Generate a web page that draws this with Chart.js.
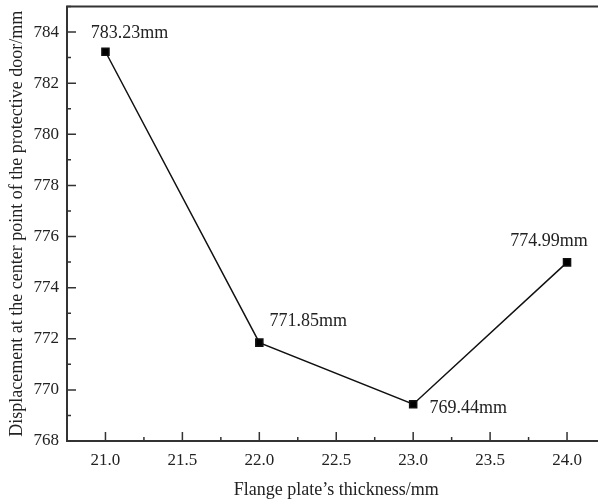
<!DOCTYPE html>
<html>
<head>
<meta charset="utf-8">
<script src="https://cdn.jsdelivr.net/npm/chart.js@4/dist/chart.umd.min.js"></script>
<style>
    html, body { margin: 0; padding: 0; background: #fff; overflow: hidden; }
    #wrap { width: 612px; height: 501px; }
</style>
</head>
<body>
<div id="wrap"><canvas id="chart" width="612" height="501"></canvas></div>
<script>
// Data
const thickness = [21.0, 22.0, 23.0, 24.0];
const displacement = [783.23, 771.85, 769.44, 774.99];
const pointLabels = ['783.23mm', '771.85mm', '769.44mm', '774.99mm'];
const xTicks = [21.0, 21.5, 22.0, 22.5, 23.0, 23.5, 24.0];
const yTicks = [768, 770, 772, 774, 776, 778, 780, 782, 784];

// label offsets from each point (px)
const labelOffsets = [[24, -18], [49, -21], [55, 4], [-18, -21]];

const FONT = "'Liberation Serif', 'Times New Roman', serif";
const TEXT = '#222';

// Frame plus inward ticks
const framePlugin = {
    id: 'frame',
    afterDraw(chart) {
        const { ctx, chartArea: a, scales } = chart;
        ctx.save();
        ctx.strokeStyle = '#333';
        ctx.lineWidth = 2;
        ctx.strokeRect(a.left, a.top, a.right - a.left, a.bottom - a.top);

        ctx.lineWidth = 1.5;
        ctx.beginPath();
        // x major + minor
        for (let v = 20.75; v <= 24.25; v += 0.25) {
            const px = scales.x.getPixelForValue(v);
            const major = Math.abs((v * 2) - Math.round(v * 2)) < 1e-6;
            const len = major ? 9 : 4;
            ctx.moveTo(px, a.bottom);
            ctx.lineTo(px, a.bottom - len);
        }
        // y major + minor
        for (let v = 768; v <= 785; v += 1) {
            const py = scales.y.getPixelForValue(v);
            const len = v % 2 === 0 ? 9 : 4;
            ctx.moveTo(a.left, py);
            ctx.lineTo(a.left + len, py);
        }
        ctx.stroke();
        ctx.restore();
    }
};

// Value labels beside the points
const labelPlugin = {
    id: 'pointLabels',
    afterDatasetsDraw(chart) {
        const { ctx } = chart;
        const meta = chart.getDatasetMeta(0);
        ctx.save();
        ctx.fillStyle = TEXT;
        ctx.font = '18px ' + FONT;
        ctx.textAlign = 'center';
        ctx.textBaseline = 'middle';
        meta.data.forEach((pt, i) => {
            const [dx, dy] = labelOffsets[i];
            ctx.fillText(pointLabels[i], pt.x + dx, pt.y + dy);
        });
        ctx.restore();
    }
};

new Chart(document.getElementById('chart').getContext('2d'), {
    type: 'scatter',
    data: {
        datasets: [{
            data: thickness.map((x, i) => ({ x: x, y: displacement[i] })),
            showLine: true,
            borderColor: '#111',
            borderWidth: 1.5,
            backgroundColor: '#000',
            pointStyle: 'rect',
            pointRadius: 5,
            pointHoverRadius: 5,
            tension: 0
        }]
    },
    options: {
        responsive: false,
        animation: false,
        layout: { padding: { top: 5, right: 6, left: 0, bottom: 0 } },
        plugins: {
            legend: { display: false },
            tooltip: { enabled: false }
        },
        scales: {
            x: {
                type: 'linear',
                min: 20.75,
                max: 24.25,
                afterBuildTicks: (scale) => { scale.ticks = xTicks.map(v => ({ value: v })); },
                afterFit: (scale) => {
                    scale.height = 60;
                    scale.paddingLeft = 0;
                    scale.paddingRight = 0;
                },
                grid: { display: false, drawTicks: false },
                border: { display: false },
                ticks: {
                    color: TEXT,
                    font: { family: FONT, size: 17 },
                    padding: 9,
                    callback: (v) => Number(v).toFixed(1)
                },
                title: {
                    display: true,
                    text: 'Flange plate\u2019s thickness/mm',
                    color: TEXT,
                    font: { family: FONT, size: 18 },
                    padding: { top: 8, bottom: 0 }
                }
            },
            y: {
                type: 'linear',
                min: 768,
                max: 785,
                afterBuildTicks: (scale) => { scale.ticks = yTicks.map(v => ({ value: v })); },
                afterFit: (scale) => {
                    scale.width = 67;
                    scale.paddingTop = 0;
                    scale.paddingBottom = 0;
                },
                grid: { display: false, drawTicks: false },
                border: { display: false },
                ticks: {
                    color: TEXT,
                    font: { family: FONT, size: 17 },
                    padding: 8
                },
                title: {
                    display: true,
                    text: 'Displacement at the center point of the protective door/mm',
                    color: TEXT,
                    font: { family: FONT, size: 18 },
                    padding: { top: 6, bottom: 0 }
                }
            }
        }
    },
    plugins: [framePlugin, labelPlugin]
});
</script>
</body>
</html>
